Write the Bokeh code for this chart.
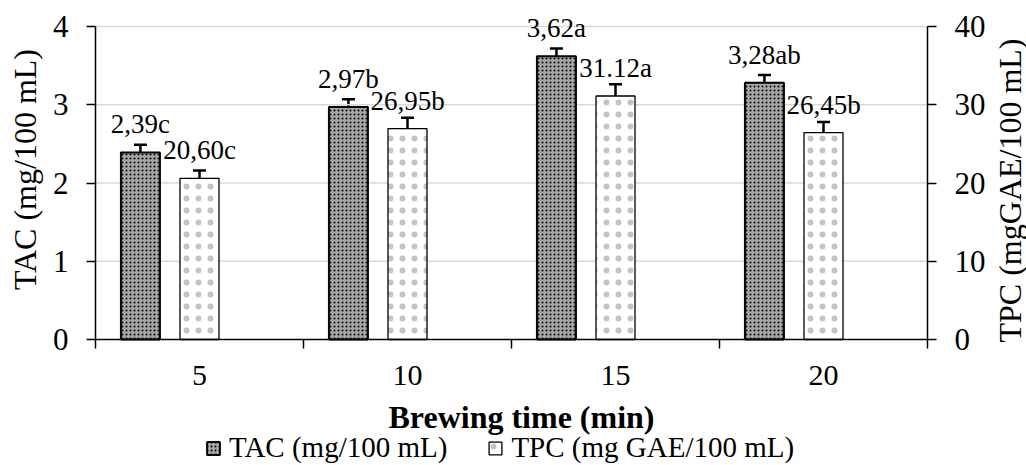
import math
from bokeh.plotting import figure
from bokeh.models import (ColumnDataSource, Range1d, LinearAxis, FixedTicker, Whisker,
                          TeeHead, LabelSet, Label, Legend, LegendItem)
from bokeh.core.properties import value
from bokeh.embed import file_html
from bokeh.resources import INLINE

categories = ["5", "10", "15", "20"]
tac = [2.39, 2.97, 3.62, 3.28]
tac_err = [0.10, 0.10, 0.10, 0.10]
tpc = [20.60, 26.95, 31.12, 26.45]
tpc_err = [1.0, 1.4, 1.5, 1.35]
tac_labels = ["2,39c", "2,97b", "3,62a", "3,28ab"]
tpc_labels = ["20,60c", "26,95b", "31.12a", "26,45b"]
left_ticks = [0, 1, 2, 3, 4]
right_ticks = [0, 10, 20, 30, 40]
x_title = "Brewing time (min)"
left_title = "TAC (mg/100 mL)"
right_title = "TPC (mgGAE/100 mL)"
legend_labels = ["TAC (mg/100 mL)", "TPC (mg GAE/100 mL)"]

FONT = "Liberation Serif"
W, H = 1026, 465
# plot area inside the canvas (pixels): left, right, top (value 4), bottom (value 0)
PL, PR, PT, PB = 95, 927, 26, 339
ncat = len(categories)
ux = (PR - PL) / ncat
uy = (PB - PT) / left_ticks[-1]
x_lo, x_hi = -PL / ux, ncat + (W - PR) / ux
y_lo, y_hi = -(H - PB) / uy, PB / uy
scale_r = right_ticks[-1] / left_ticks[-1]

centers = [i + 0.5 for i in range(ncat)]
tac_x = [c - 0.284 for c in centers]
tpc_x = list(centers)

src_tac = ColumnDataSource(dict(x=tac_x, top=tac,
                                upper=[v + e for v, e in zip(tac, tac_err)],
                                lower=[v - e for v, e in zip(tac, tac_err)],
                                label=tac_labels))
src_tpc = ColumnDataSource(dict(x=tpc_x, top=tpc,
                                upper=[v + e for v, e in zip(tpc, tpc_err)],
                                lower=[v - e for v, e in zip(tpc, tpc_err)],
                                label=tpc_labels))

p = figure(width=W, height=H, output_backend="svg", toolbar_location=None,
           x_range=Range1d(x_lo, x_hi), y_range=Range1d(y_lo, y_hi),
           min_border=0)
p.extra_y_ranges = {"tpc": Range1d(y_lo * scale_r, y_hi * scale_r)}
p.outline_line_color = None
p.background_fill_color = "white"
p.border_fill_color = "white"
p.xgrid.visible = False
p.ygrid.visible = False

# horizontal gridlines between the two value axes
grid_src = ColumnDataSource(dict(y=left_ticks[1:], x0=[0] * (len(left_ticks) - 1),
                                 x1=[ncat] * (len(left_ticks) - 1)))
p.segment(x0="x0", x1="x1", y0="y", y1="y", source=grid_src,
          line_color="#d9d9d9", line_width=1.5)

r_tac = p.vbar(x="x", top="top", bottom=0, width=0.1875, source=src_tac,
               fill_color="#a6a6a6", line_color="black", line_width=2,
               hatch_pattern="dot", hatch_scale=4, hatch_color="black")
r_tpc = p.vbar(x="x", top="top", bottom=0, width=0.1875, source=src_tpc, y_range_name="tpc",
               fill_color="white", line_color="black", line_width=1.3,
               hatch_pattern="dot", hatch_scale=12, hatch_color="#c4c4c4")

for src, rn in ((src_tac, "default"), (src_tpc, "tpc")):
    w = Whisker(source=src, base="x", upper="upper", lower="lower", dimension="height",
                line_color="black", line_width=2.5, y_range_name=rn,
                upper_head=TeeHead(size=13, line_width=2.5, line_color="black"),
                lower_head=TeeHead(size=13, line_width=2.5, line_color="black"))
    p.add_layout(w)
    ls = LabelSet(source=src, x="x", y="top", text="label", y_range_name=rn,
                  text_align="center", text_baseline="alphabetic", y_offset=19,
                  text_font=value(FONT), text_font_size="27px", text_color="black")
    p.add_layout(ls)

# x axis at value 0
xa = p.xaxis[0]
xa.fixed_location = 0
xa.bounds = (0, ncat)
xa.ticker = FixedTicker(ticks=centers, minor_ticks=list(range(ncat + 1)))
xa.major_label_overrides = {c: lab for c, lab in zip(centers, categories)}
xa.major_tick_line_color = None
xa.major_tick_out = 9
xa.major_tick_in = 0
xa.minor_tick_out = 9
xa.minor_tick_in = 0
xa.minor_tick_line_color = "black"
xa.minor_tick_line_width = 1.5
xa.axis_line_color = "black"
xa.axis_line_width = 1.5
xa.major_label_text_font = FONT
xa.major_label_text_font_size = "30px"
xa.major_label_text_color = "black"
xa.major_label_standoff = 17

ya = p.yaxis[0]
ya.fixed_location = 0
ya.ticker = FixedTicker(ticks=left_ticks)
ya.bounds = (left_ticks[0], left_ticks[-1])

yr = LinearAxis(y_range_name="tpc", ticker=FixedTicker(ticks=right_ticks),
                bounds=(right_ticks[0], right_ticks[-1]), fixed_location=ncat)
p.add_layout(yr, "right")

for ax in (ya, yr):
    ax.minor_tick_line_color = None
    ax.major_tick_out = 9
    ax.major_tick_in = 0
    ax.major_tick_line_color = "black"
    ax.major_tick_line_width = 1.5
    ax.axis_line_color = "black"
    ax.axis_line_width = 1.5
    ax.major_label_text_font = FONT
    ax.major_label_text_font_size = "31px"
    ax.major_label_text_color = "black"
    ax.major_label_standoff = 18

# axis titles (screen units, y measured from the bottom)
p.add_layout(Label(x=24, y=H - 169, x_units="screen", y_units="screen", text=left_title,
                   angle=math.pi / 2, text_align="center", text_baseline="middle",
                   text_font=FONT, text_font_size="32px", text_color="black"))
p.add_layout(Label(x=1009, y=H - 190, x_units="screen", y_units="screen", text=right_title,
                   angle=math.pi / 2, text_align="center", text_baseline="middle",
                   text_font=FONT, text_font_size="32px", text_color="black"))
p.add_layout(Label(x=521, y=H - 416, x_units="screen", y_units="screen", text=x_title,
                   text_align="center", text_baseline="alphabetic",
                   text_font=FONT, text_font_size="32px", text_font_style="bold",
                   text_color="black"))

legend = Legend(items=[LegendItem(label=legend_labels[0], renderers=[r_tac]),
                       LegendItem(label=legend_labels[1], renderers=[r_tpc])],
                orientation="horizontal", location=(205, 1),
                glyph_width=16, glyph_height=16, label_standoff=8, spacing=40,
                padding=0, margin=0, border_line_color=None, background_fill_alpha=0,
                label_text_font=FONT, label_text_font_size="29px", label_text_color="black")
p.add_layout(legend, "center")

open("out.html", "w").write(file_html(p, INLINE))
